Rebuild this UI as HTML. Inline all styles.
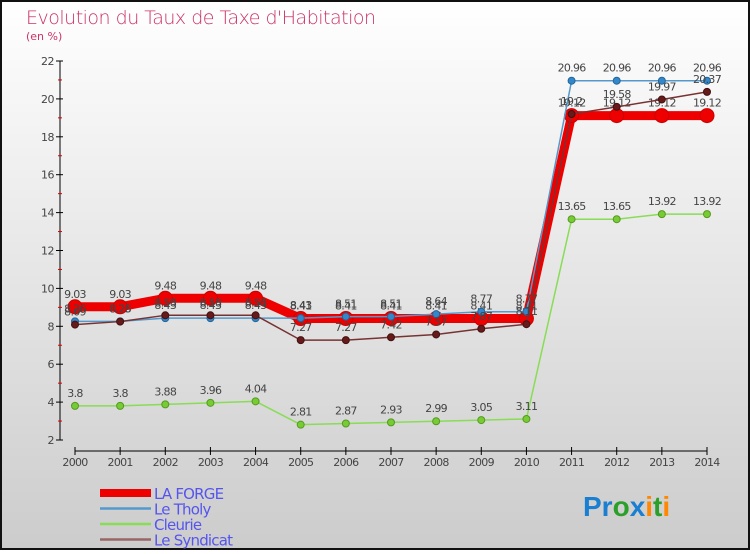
<!DOCTYPE html>
<html><head><meta charset="utf-8"><style>
html,body{margin:0;padding:0}
body{width:750px;height:550px;overflow:hidden;font-family:"DejaVu Sans","Liberation Sans",sans-serif}
</style></head><body>
<svg width="750" height="550" xmlns="http://www.w3.org/2000/svg">
<defs><linearGradient id="bg" x1="0" y1="0" x2="0" y2="1"><stop offset="0" stop-color="#ffffff"/><stop offset="1" stop-color="#cccccc"/></linearGradient></defs>
<rect x="1" y="1" width="748" height="548" fill="url(#bg)" stroke="#111" stroke-width="2"/>
<text x="26" y="24" font-size="19" fill="#cc3366" font-weight="200" letter-spacing="-0.5">Evolution du Taux de Taxe d'Habitation</text>
<text x="26" y="40" font-size="11" fill="#cc3366">(en %)</text>
<g id="axes"></g>
<g id="series"></g>
<g id="legend"></g>
<g font-family="Liberation Sans, sans-serif" font-size="28" font-weight="bold">
<text x="583" y="516"><tspan fill="#1a7fd0">Pr</tspan><tspan fill="#2aa02a">o</tspan><tspan fill="#1a7fd0">x</tspan><tspan fill="#ff8800">i</tspan><tspan fill="#2aa02a">t</tspan><tspan fill="#ff8800">i</tspan></text>
</g>
</svg>
<script>
const years=[2000,2001,2002,2003,2004,2005,2006,2007,2008,2009,2010,2011,2012,2013,2014];
const laForge=[9.03,9.03,9.48,9.48,9.48,8.41,8.41,8.41,8.41,8.41,8.41,19.12,19.12,19.12,19.12];
const leTholy=[8.26,8.26,8.43,8.43,8.43,8.43,8.51,8.51,8.64,8.77,8.77,20.96,20.96,20.96,20.96];
const cleurie=[3.8,3.8,3.88,3.96,4.04,2.81,2.87,2.93,2.99,3.05,3.11,13.65,13.65,13.92,13.92];
const syndicat=[8.09,8.25,8.58,8.58,8.58,7.27,7.27,7.42,7.57,7.87,8.11,19.2,19.58,19.97,20.37];
const yTicks=[2,4,6,8,10,12,14,16,18,20,22];
const NS="http://www.w3.org/2000/svg";
const X=i=>75+i*(707-75)/(years.length-1);
const Y=v=>440-(v-2)*(440-61)/20;
function mk(tag,attrs,parent,txt){const e=document.createElementNS(NS,tag);for(const k in attrs)e.setAttribute(k,attrs[k]);if(txt!==undefined)e.textContent=txt;parent.appendChild(e);return e;}
const ax=document.getElementById('axes');
const yl=mk('line',{x1:60,y1:61,x2:60,y2:440,stroke:'#000'},ax);


for(let v=3;v<22;v+=2){mk('line',{x1:58,y1:Y(v),x2:62,y2:Y(v),stroke:'#d00'},ax);}
yTicks.forEach(v=>{mk('line',{x1:56,y1:Y(v),x2:63,y2:Y(v),stroke:'#000'},ax);
const t=mk('text',{x:54,y:Y(v)+4,'font-size':11,fill:'#444','text-anchor':'end','letter-spacing':'-0.5'},ax,String(v));

});
const xl=mk('line',{x1:75,y1:451,x2:707,y2:451,stroke:'#000'},ax);


years.forEach((y,i)=>{mk('line',{x1:X(i),y1:447,x2:X(i),y2:455,stroke:'#000'},ax);
const t=mk('text',{x:X(i),y:466,'font-size':11,fill:'#444','text-anchor':'middle','letter-spacing':'-0.7'},ax,String(y));

});
const sg=document.getElementById('series');
function series(name,data,color,w,r,dot,dotStroke){
 const g=mk('g',{},sg);
 
 
 mk('polyline',{points:data.map((v,i)=>X(i)+','+Y(v)).join(' '),fill:'none',stroke:color,'stroke-width':w,'stroke-linejoin':'round'},g);
 data.forEach((v,i)=>{const c=mk('circle',{cx:X(i),cy:Y(v),r:r,fill:dot,stroke:dotStroke,'stroke-width':1},g);
 
 
 const t=mk('text',{x:X(i),y:Y(v)-9,'font-size':11,fill:'#444','text-anchor':'middle','letter-spacing':'-0.7'},g,String(v));
 
 });
}
series('cleurie-line',cleurie,'#88dd55',1.5,3.5,'#77cc33','#559922');
series('la-forge-line',laForge,'#ee0000',9,7,'#ee0000','#cc0000');
series('le-tholy-line',leTholy,'#5599cc',1.5,3.5,'#3388cc','#226699');
series('le-syndicat-line',syndicat,'#773333',1.5,3.5,'#661a1a','#441111');
const lg=document.getElementById('legend');
const items=[['LA FORGE','#ee0000',8],['Le Tholy','#5599cc',2.5],['Cleurie','#88dd55',2.5],['Le Syndicat','#996666',2.5]];
items.forEach((it,k)=>{const y=493+k*15.5;
 mk('line',{x1:100,y1:y,x2:151,y2:y,stroke:it[1],'stroke-width':it[2]},lg);
 const t=mk('text',{x:154,y:y+6,'font-size':15,fill:'#5555ee','letter-spacing':'-0.8'},lg,it[0]);
 
 });
</script>
</body></html>
